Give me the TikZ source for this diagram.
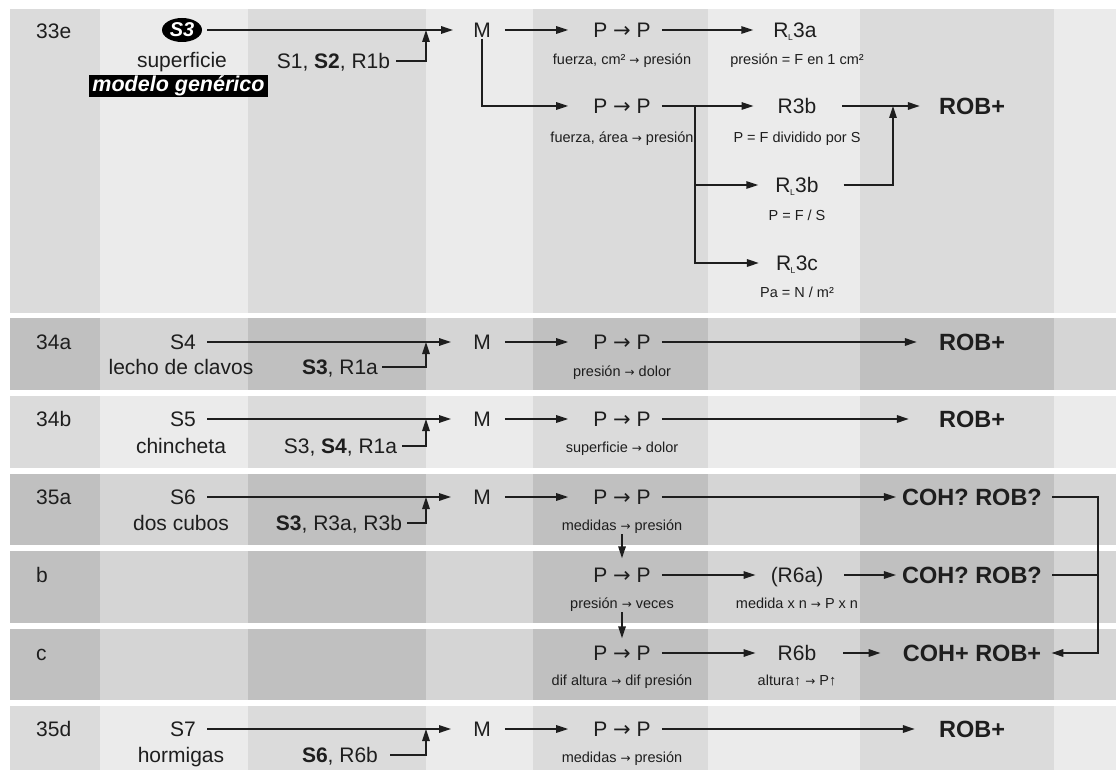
\documentclass[tikz,border=0pt]{standalone}
\usepackage{fontspec}
\setmainfont{Liberation Sans}
\newfontfamily\arrowfont{DejaVu Sans}
\usetikzlibrary{arrows.meta,shapes.geometric}
\definecolor{txt}{HTML}{1E1E1E}
\definecolor{lA}{HTML}{DBDBDB}
\definecolor{lB}{HTML}{EBEBEB}
\definecolor{dA}{HTML}{C0C0C0}
\definecolor{dB}{HTML}{D5D5D5}
\newcommand{\RLsub}{R\kern-0.03em\raisebox{-0.12em}{\fontsize{8.5}{8.5}\selectfont L}\kern0.02em}
\newcommand{\bigar}{{\arrowfont →}}
\newcommand{\smar}{{\arrowfont\fontsize{12}{12}\selectfont →}}
\tikzset{
  mtxt/.style={font=\fontsize{21}{21}\selectfont, text height=15pt, text depth=0pt, inner sep=0pt, text=txt},
  lab/.style={mtxt, anchor=west},
  stxt/.style={font=\fontsize{14.5}{14.5}\selectfont, text height=10.4pt, text depth=0pt, inner sep=0pt, text=txt},
  btxt/.style={font=\bfseries\fontsize{23.5}{23.5}\selectfont, text height=16.8pt, text depth=0pt, inner sep=0pt, text=txt},
  blob/.style={ellipse, fill=black, text=white, font=\bfseries\itshape\fontsize{20}{20}\selectfont, minimum width=40pt, minimum height=24pt, inner sep=0pt},
  blackbox/.style={fill=black, text=white, font=\bfseries\itshape\fontsize{21.5}{21.5}\selectfont, text height=14.5pt, text depth=4pt, inner xsep=3pt, inner ysep=1.5pt},
  conn/.style={line width=1.6pt, draw=txt},
  arr/.style={conn, -{Triangle[length=12pt,width=7.5pt]}},
}
\begin{document}
\begin{tikzpicture}[x=1pt,y=-1pt]
\useasboundingbox (0,0) rectangle (1117,770);
% background bands
\foreach \t/\b/\dk in {9.5/312.7/0, 318.3/389.5/1, 395.7/467.7/0, 474/545/1, 550.7/622.7/1, 629/700/1, 706/770/0}{
  \ifnum\dk=1
    \fill[dB] (10,\t) rectangle (1116,\b);
    \foreach \xa/\xb in {10/100, 248/426, 533/708, 860/1054}{\fill[dA] (\xa,\t) rectangle (\xb,\b);}
  \else
    \fill[lB] (10,\t) rectangle (1116,\b);
    \foreach \xa/\xb in {10/100, 248/426, 533/708, 860/1054}{\fill[lA] (\xa,\t) rectangle (\xb,\b);}
  \fi
}
% ---------- row 33e
\node[lab] (l33e) at (36,31) {33e};
\node[blob] (s3) at (182,30) {S3};
\node[mtxt] (sup) at (182,60) {superficie};
\node[blackbox] (mg) at (178.5,86) {modelo genérico};
\node[mtxt] (src33) at (333.5,61) {S1, \textbf{S2}, R1b};
\node[mtxt] (m33) at (482,30) {M};
\node[mtxt] (pa33) at (622,30) {P \bigar{} P};
\node[stxt] (pa33t) at (622,59) {fuerza, cm² \smar{} presión};
\node[mtxt] (ra33) at (795,30) {\RLsub 3a};
\node[stxt] (ra33t) at (797,59) {presión = F en 1 cm²};
\node[mtxt] (pb33) at (622,106) {P \bigar{} P};
\node[stxt] (pb33t) at (622,137) {fuerza, área \smar{} presión};
\node[mtxt] (rb33) at (797,106) {R3b};
\node[stxt] (rb33t) at (797,137) {P = F dividido por S};
\node[mtxt] (rlb33) at (797,185) {\RLsub 3b};
\node[stxt] (rlb33t) at (797,215) {P = F / S};
\node[mtxt] (rlc33) at (797,263) {\RLsub 3c};
\node[stxt] (rlc33t) at (797,292) {Pa = N / m²};
\node[btxt] (rob33) at (972,106) {ROB+};
\coordinate (j33) at (426,30);
\coordinate (br33) at (695,106);
\coordinate (k33) at (893,106);
\draw[arr, shorten <=5pt, shorten >=20pt] (s3.east) -- (m33.west);
\draw[arr, shorten <=6pt] (src33.east) -| (j33);
\draw[arr, shorten <=14pt, shorten >=25pt] (m33.east) -- (pa33.west);
\draw[arr, shorten <=1pt, shorten >=25pt] (m33.south) |- (pb33.west);
\draw[arr, shorten <=11pt, shorten >=20pt] (pa33.east) -- (ra33.west);
\draw[arr, shorten <=11pt, shorten >=24pt] (pb33.east) -- (rb33.west);
\draw[arr, shorten >=17pt] (br33) |- (rlb33.west);
\draw[arr, shorten >=17pt] (br33) |- (rlc33.west);
\draw[arr, shorten <=26pt, shorten >=19pt] (rb33.east) -- (rob33.west);
\draw[arr, shorten <=25pt] (rlb33.east) -| (k33);
% ---------- row 34a
\node[lab] (l34a) at (36,342) {34a};
\node[mtxt] (s4) at (183,342) {S4};
\node[mtxt] (s4t) at (181,367) {lecho de clavos};
\node[mtxt] (src34a) at (340,367) {\textbf{S3}, R1a};
\node[mtxt] (m34a) at (482,342) {M};
\node[mtxt] (pp34a) at (622,342) {P \bigar{} P};
\node[stxt] (pp34at) at (622,371) {presión \smar{} dolor};
\node[btxt] (rob34a) at (972,342) {ROB+};
\coordinate (j34a) at (426,342);
\draw[arr, shorten <=11pt, shorten >=22pt] (s4.east) -- (m34a.west);
\draw[arr, shorten <=4pt] (src34a.east) -| (j34a);
\draw[arr, shorten <=14pt, shorten >=25pt] (m34a.east) -- (pp34a.west);
\draw[arr, shorten <=11pt, shorten >=22pt] (pp34a.east) -- (rob34a.west);
% ---------- row 34b
\node[lab] (l34b) at (36,419) {34b};
\node[mtxt] (s5) at (183,419) {S5};
\node[mtxt] (s5t) at (181,446) {chincheta};
\node[mtxt] (src34b) at (340.5,446) {S3, \textbf{S4}, R1a};
\node[mtxt] (m34b) at (482,419) {M};
\node[mtxt] (pp34b) at (622,419) {P \bigar{} P};
\node[stxt] (pp34bt) at (622,447) {superficie \smar{} dolor};
\node[btxt] (rob34b) at (972,419) {ROB+};
\coordinate (j34b) at (426,419);
\draw[arr, shorten <=11pt, shorten >=22pt] (s5.east) -- (m34b.west);
\draw[arr, shorten <=5pt] (src34b.east) -| (j34b);
\draw[arr, shorten <=14pt, shorten >=25pt] (m34b.east) -- (pp34b.west);
\draw[arr, shorten <=11pt, shorten >=30pt] (pp34b.east) -- (rob34b.west);
% ---------- row 35a
\node[lab] (l35a) at (36,497) {35a};
\node[mtxt] (s6) at (183,497) {S6};
\node[mtxt] (s6t) at (181,523) {dos cubos};
\node[mtxt] (src35a) at (339,523) {\textbf{S3}, R3a, R3b};
\node[mtxt] (m35a) at (482,497) {M};
\node[mtxt] (pp35a) at (622,497) {P \bigar{} P};
\node[stxt] (pp35at) at (622,525) {medidas \smar{} presión};
\node[btxt] (coh1) at (972,497) {COH? ROB?};
\coordinate (j35a) at (426,497);
\draw[arr, shorten <=11pt, shorten >=22pt] (s6.east) -- (m35a.west);
\draw[arr, shorten <=5pt] (src35a.east) -| (j35a);
\draw[arr, shorten <=14pt, shorten >=25pt] (m35a.east) -- (pp35a.west);
\draw[arr, shorten <=11pt, shorten >=6pt] (pp35a.east) -- (coh1.west);
% ---------- row b
\node[lab] (l35b) at (36,575) {b};
\node[mtxt] (pp35b) at (622,575) {P \bigar{} P};
\node[stxt] (pp35bt) at (622,603) {presión \smar{} veces};
\node[mtxt] (r6a) at (797,575) {(R6a)};
\node[stxt] (r6at) at (797,603) {medida x n \smar{} P x n};
\node[btxt] (coh2) at (972,575) {COH? ROB?};
\draw[arr, shorten <=4pt, shorten >=9pt] (pp35at.south) -- (pp35b.north);
\draw[arr, shorten <=11pt, shorten >=15pt] (pp35b.east) -- (r6a.west);
\draw[arr, shorten <=21pt, shorten >=6pt] (r6a.east) -- (coh2.west);
% ---------- row c
\node[lab] (l35c) at (36,653) {c};
\node[mtxt] (pp35c) at (622,653) {P \bigar{} P};
\node[stxt] (pp35ct) at (622,680) {dif altura \smar{} dif presión};
\node[mtxt] (r6b) at (797,653) {R6b};
\node[stxt] (r6bt) at (797,680) {altura↑ \smar{} P↑};
\node[btxt] (coh3) at (972,653) {COH+ ROB+};
\draw[arr, shorten <=4pt, shorten >=7pt] (pp35bt.south) -- (pp35c.north);
\draw[arr, shorten <=11pt, shorten >=22pt] (pp35c.east) -- (r6b.west);
\draw[arr, shorten <=27pt, shorten >=22pt] (r6b.east) -- (coh3.west);
\coordinate (rr) at (1098,653);
\draw[arr, shorten <=10pt, shorten >=10pt] (coh1.east) -| (rr) -- (coh3.east);
\draw[conn, shorten <=10pt] (coh2.east) -- (coh2.east -| rr);
% ---------- row 35d
\node[lab] (l35d) at (36,729) {35d};
\node[mtxt] (s7) at (183,729) {S7};
\node[mtxt] (s7t) at (181,755) {hormigas};
\node[mtxt] (src35d) at (340,755) {\textbf{S6}, R6b};
\node[mtxt] (m35d) at (482,729) {M};
\node[mtxt] (pp35d) at (622,729) {P \bigar{} P};
\node[stxt] (pp35dt) at (622,757) {medidas \smar{} presión};
\node[btxt] (rob35d) at (972,729) {ROB+};
\coordinate (j35d) at (426,729);
\draw[arr, shorten <=11pt, shorten >=22pt] (s7.east) -- (m35d.west);
\draw[arr, shorten <=12pt] (src35d.east) -| (j35d);
\draw[arr, shorten <=14pt, shorten >=25pt] (m35d.east) -- (pp35d.west);
\draw[arr, shorten <=11pt, shorten >=24pt] (pp35d.east) -- (rob35d.west);
\end{tikzpicture}
\end{document}
